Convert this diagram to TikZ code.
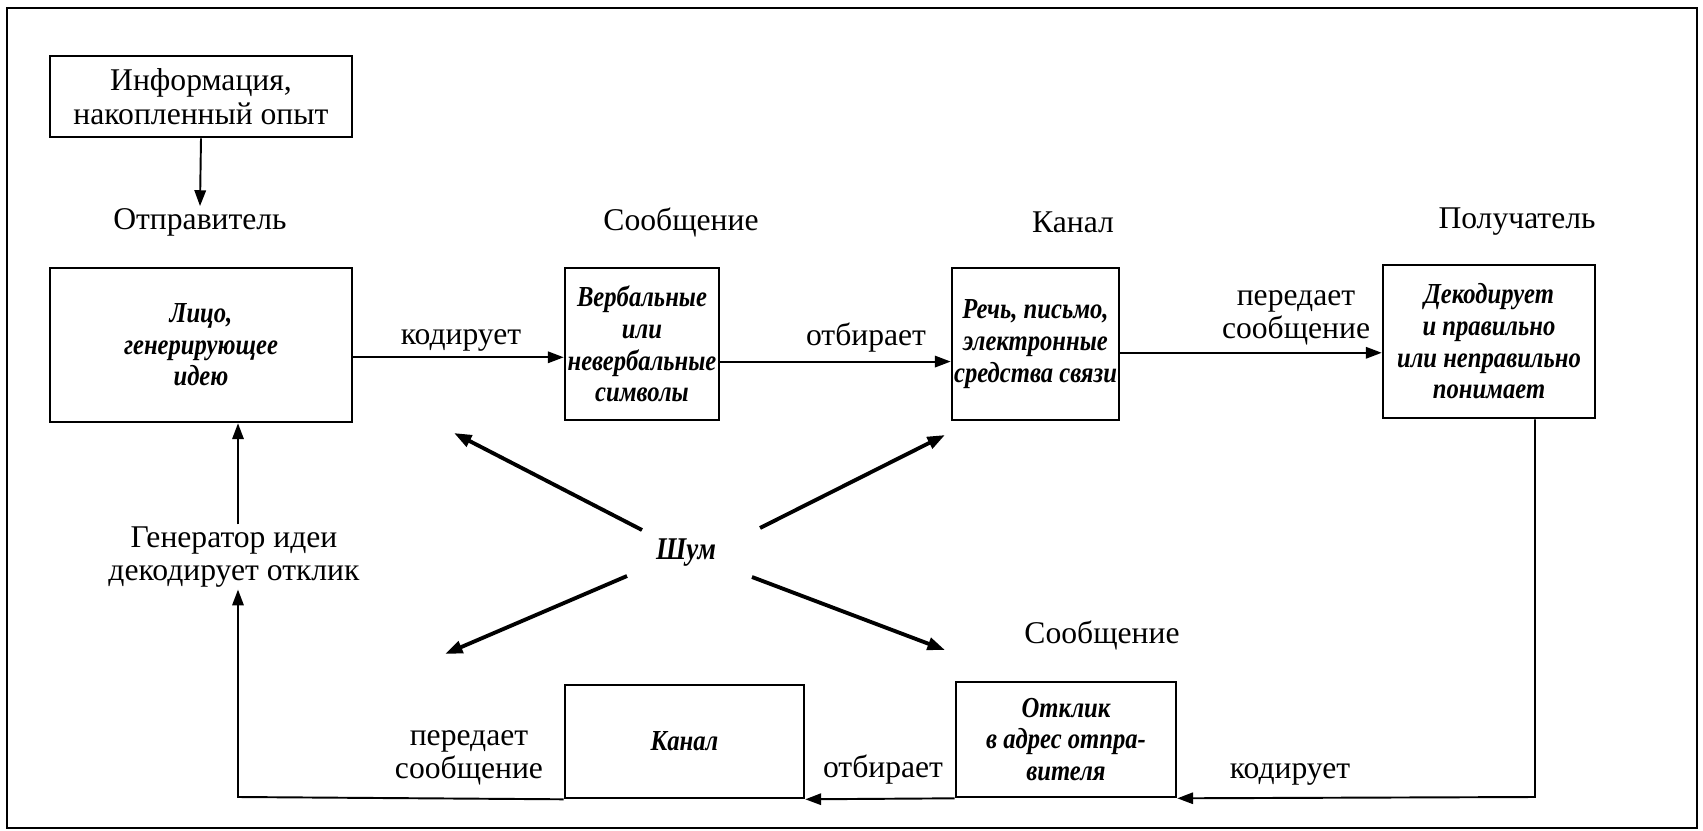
\documentclass[tikz,border=0pt]{standalone}
\usepackage{fontspec}
\setmainfont{Liberation Serif}
\newfontfamily\boxfam{Liberation Serif}[FakeStretch=0.85]
\usetikzlibrary{arrows.meta}
\newcommand{\boxfont}{\fontsize{16.5}{18}\selectfont\boxfam\bfseries\itshape}
\newcommand{\lblfont}{\fontsize{18}{19}\selectfont}
\begin{document}
\begin{tikzpicture}[x=0.02cm,y=-0.02cm,
		box/.style={draw, line width=1.5pt, inner sep=1pt, align=center, font=\boxfont},
		lbl/.style={align=center, inner sep=1pt, font=\lblfont},
		arr/.style={line width=1.1pt, -{Triangle[length=9pt,width=6.5pt]}},
		noise/.style={line width=2.2pt, -{Triangle[length=10pt,width=7pt]}}]
	\useasboundingbox (0,0) rectangle (1703,831);
	\draw[line width=1.1pt] (7,8) rectangle (1697,828);

	% Boxes
	\node[box, font=\lblfont, minimum width=6.04cm, minimum height=1.62cm] (info) at (201,96.5) {Информация,\\накопленный опыт};
	\node[box, minimum width=6.04cm, minimum height=3.08cm] (lico) at (201,345) {Лицо,\\генерирующее\\идею};
	\node[box, minimum width=3.08cm, minimum height=3.04cm] (verb) at (642,344) {Вербальные\\или\\невербальные\\символы};
	\node[box, minimum width=3.34cm, minimum height=3.04cm] (rech) at (1035.5,344) {Речь, письмо,\\электронные\\средства связи};
	\node[box, minimum width=4.24cm, minimum height=3.06cm] (poluch) at (1489,341.5) {Декодирует\\и правильно\\или неправильно\\понимает};
	\node[box, minimum width=4.4cm, minimum height=2.3cm] (otklik) at (1066,739.5) {Отклик\\в адрес отпра-\\вителя};
	\node[box, minimum width=4.78cm, minimum height=2.26cm] (kanal) at (684.5,741.5) {Канал};

	% Labels
	\node[lbl] (otpr) at (200,222) {Отправитель};
	\node[lbl] (soob1) at (681,222) {Сообщение};
	\node[lbl] (kan1) at (1073,222) {Канал};
	\node[lbl] (pol1) at (1517,222) {Получатель};
	\node[lbl] (kod1) at (461,340) {кодирует};
	\node[lbl] (otb1) at (866,338) {отбирает};
	\node[lbl] (per1) at (1296,318) {передает\\сообщение};
	\node[lbl] (gen) at (234,557) {Генератор идеи\\декодирует отклик};
	\node[lbl, font=\fontsize{18}{19}\selectfont\boxfam\bfseries\itshape] (shum) at (686,553) {Шум};
	\node[lbl] (soob2) at (1102,635) {Сообщение};
	\node[lbl] (kod2) at (1290,774) {кодирует};
	\node[lbl] (otb2) at (883,770) {отбирает};
	\node[lbl] (per2) at (469,758) {передает\\сообщение};

	\coordinate (cr) at (1535,797);
	\coordinate (cl) at (238,797);

	% Connectors
	\draw[arr] (info.south) -- (otpr.north);
	\draw[arr] ([yshift=-7pt]lico.east) -- ([yshift=-7pt]lico.east -| verb.west);
	\draw[arr] ([yshift=-10pt]verb.east) -- ([yshift=-10pt]verb.east -| rech.west);
	\draw[arr] ([yshift=-5pt]rech.east) -- ([yshift=-5pt]rech.east -| poluch.west);
	\draw[arr] (poluch.south -| cr) -- (cr) -- (otklik.south east);
	\draw[arr] (otklik.south west) -- (kanal.south east);
	\draw[arr] (kanal.south west) -- (cl) -- (cl |- gen.south);
	\draw[arr] (cl |- gen.north) -- (cl |- lico.south);

	% Noise
	\draw[noise] (shum.center) ++(-44,-23) -- (454,433);
	\draw[noise] (shum.center) ++(74,-25) -- (945,435);
	\draw[noise] (shum.center) ++(-59,23) -- (445,654);
	\draw[noise] (shum.center) ++(66,24) -- (945,650);
\end{tikzpicture}
\end{document}
